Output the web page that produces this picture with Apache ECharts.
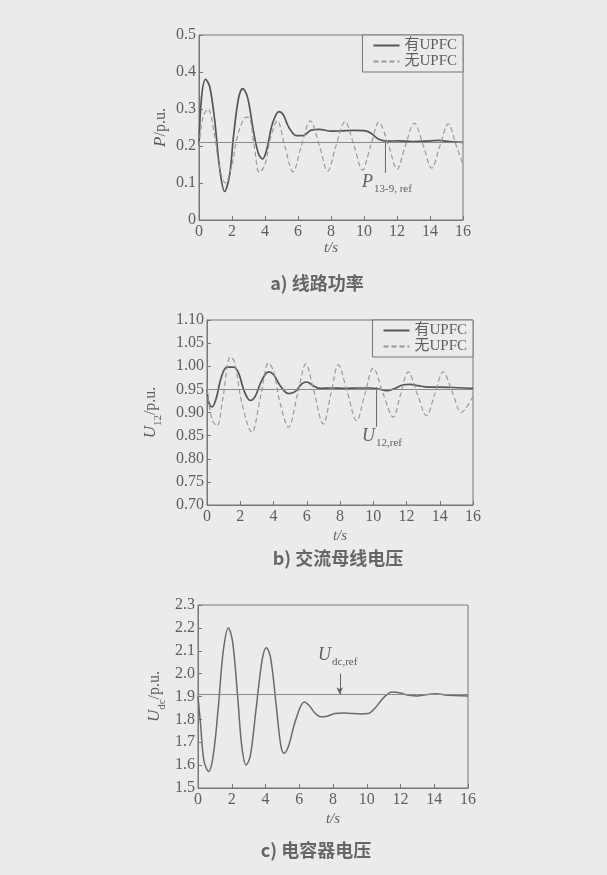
<!DOCTYPE html>
<html><head><meta charset="utf-8">
<script src="https://cdn.jsdelivr.net/npm/echarts@6/dist/echarts.min.js"></script>
<style>html,body{margin:0;padding:0;background:#ebebeb}#c{width:607px;height:875px}</style>
</head><body><div id="c"></div>
<script>
// ---- data ----
const seriesNames = ['有UPFC', '无UPFC'];
const xRange = [0, 16];

// a) line power P (p.u.)
const pWith = [[0,0.2],[0.15,0.33],[0.4,0.38],[0.65,0.36],[0.95,0.27],[1.25,0.14],[1.55,0.077],[1.85,0.12],[2.1,0.23],[2.4,0.33],[2.65,0.355],[2.95,0.33],[3.3,0.24],[3.6,0.18],[3.85,0.165],[4.1,0.19],[4.45,0.26],[4.85,0.293],[5.1,0.285],[5.45,0.25],[5.9,0.228],[6.3,0.228],[6.8,0.243],[7.3,0.245],[8,0.24],[8.7,0.241],[9.4,0.242],[10.1,0.241],[10.5,0.232],[10.9,0.218],[11.4,0.213],[12.1,0.214],[12.9,0.212],[13.7,0.213],[14.5,0.215],[15.2,0.212],[16,0.21]];
const pWithout = [[0,0.2],[0.25,0.28],[0.55,0.3],[0.9,0.24],[1.25,0.14],[1.6,0.1],[1.95,0.14],[2.35,0.23],[2.75,0.275],[3.0,0.278],[3.35,0.2],[3.65,0.128],[4.0,0.15],[4.35,0.225],[4.75,0.268],[5.2,0.2],[5.7,0.13],[6.2,0.2],[6.75,0.268],[7.3,0.2],[7.8,0.132],[8.3,0.2],[8.85,0.266],[9.4,0.2],[9.9,0.135],[10.4,0.2],[10.9,0.264],[11.5,0.2],[12.0,0.137],[12.5,0.2],[13.05,0.262],[13.6,0.2],[14.1,0.14],[14.6,0.2],[15.1,0.26],[15.6,0.2],[16,0.15]];
const pRef = 0.215;
const pRefMarker = [[11.3, 0.215], [11.3, 0.127]];

// b) AC bus voltage U12 (p.u.)
const uWith = [[0,0.95],[0.12,0.92],[0.3,0.912],[0.55,0.93],[0.85,0.975],[1.2,0.998],[1.6,0.998],[1.9,0.985],[2.25,0.945],[2.6,0.926],[2.9,0.935],[3.3,0.97],[3.7,0.988],[4.0,0.982],[4.4,0.958],[4.9,0.941],[5.3,0.945],[5.7,0.962],[6.0,0.966],[6.4,0.958],[6.8,0.952],[7.5,0.953],[8.3,0.952],[9.1,0.953],[9.9,0.953],[10.4,0.95],[10.8,0.947],[11.3,0.952],[11.8,0.96],[12.2,0.961],[12.7,0.958],[13.3,0.955],[14,0.955],[14.8,0.954],[15.5,0.953],[16,0.952]];
const uWithout = [[0,0.95],[0.3,0.885],[0.6,0.871],[0.95,0.93],[1.4,1.02],[1.65,1.01],[2.1,0.92],[2.7,0.857],[3.2,0.93],[3.7,1.007],[4.0,0.99],[4.4,0.92],[4.9,0.868],[5.45,0.94],[5.95,1.005],[6.4,0.95],[7.0,0.875],[7.45,0.94],[7.9,1.003],[8.4,0.95],[9.0,0.882],[9.5,0.94],[10.0,0.996],[10.6,0.94],[11.2,0.89],[11.65,0.94],[12.1,0.988],[12.65,0.94],[13.2,0.893],[13.7,0.94],[14.2,0.988],[14.75,0.945],[15.3,0.9],[16,0.935]];
const uRef = 0.955;
const uRefMarker = [[10.2, 0.955], [10.2, 0.869]];

// c) capacitor voltage Udc (p.u.)
const udc = [[0,1.9],[0.15,1.78],[0.35,1.62],[0.63,1.572],[0.9,1.64],[1.2,1.85],[1.5,2.1],[1.8,2.2],[2.05,2.14],[2.35,1.9],[2.6,1.68],[2.85,1.601],[3.1,1.64],[3.45,1.85],[3.8,2.06],[4.05,2.113],[4.3,2.07],[4.65,1.85],[4.9,1.69],[5.1,1.652],[5.35,1.68],[5.8,1.8],[6.3,1.876],[6.6,1.86],[6.9,1.83],[7.3,1.811],[7.7,1.815],[8.1,1.826],[8.6,1.828],[9.1,1.826],[9.6,1.824],[10.1,1.826],[10.5,1.85],[11.0,1.895],[11.5,1.92],[12.0,1.915],[12.5,1.905],[13.0,1.902],[13.5,1.908],[14.1,1.912],[14.6,1.907],[15.2,1.904],[16,1.902]];
const udcRef = 1.91;
const udcArrow = [[8.4, 2.0], [8.4, 1.91]];

const captions = ['a) 线路功率', 'b) 交流母线电压', 'c) 电容器电压'];

// ---- styling ----
const AX = '#777';
const SERIF = "'Liberation Serif','Noto Sans CJK SC',serif";
const CJK = "'Noto Sans CJK SC',sans-serif";
const TXT = '#5e5e5e';

function xAx(gi, gap) {
  return {
    type: 'value', gridIndex: gi, min: xRange[0], max: xRange[1], interval: 2,
    axisLine: {lineStyle: {color: AX}}, axisTick: {inside: true, length: 4, lineStyle: {color: AX}},
    splitLine: {show: false},
    axisLabel: {margin: 4, color: TXT, fontFamily: SERIF, fontSize: 16},
    name: 't/s', nameLocation: 'middle', nameGap: gap,
    nameTextStyle: {color: TXT, fontFamily: SERIF, fontSize: 15, fontStyle: 'italic'}
  };
}
function yAx(gi, min, max, iv, dec, nameRich, gap) {
  return {
    type: 'value', gridIndex: gi, min: min, max: max, interval: iv,
    axisLine: {lineStyle: {color: AX}}, axisTick: {inside: true, length: 4, lineStyle: {color: AX}},
    splitLine: {show: false},
    axisLabel: {margin: 3, color: TXT, fontFamily: SERIF, fontSize: 16,
      formatter: v => (Math.abs(v) < 1e-9 ? '0' : v.toFixed(dec))},
    name: nameRich, nameLocation: 'middle', nameGap: gap, nameRotate: 90,
    nameTextStyle: {
      color: TXT, fontFamily: SERIF, fontSize: 16,
      rich: {
        i: {fontFamily: SERIF, fontStyle: 'italic', fontSize: 17, color: TXT, lineHeight: 26},
        s: {fontFamily: SERIF, fontSize: 11, color: TXT, lineHeight: 12, verticalAlign: 'bottom'},
        n: {fontFamily: SERIF, fontSize: 16, color: TXT, lineHeight: 26}
      }
    }
  };
}
function lineS(name, data, xi, color, width, dash) {
  return {
    name: name, type: 'line', xAxisIndex: xi, yAxisIndex: xi, data: data,
    smooth: 0.35, symbol: 'none', animation: false,
    lineStyle: {color: color, width: width, type: dash || 'solid'},
    itemStyle: {color: color}
  };
}
function refLine(val) {
  return {silent: true, symbol: 'none', label: {show: false},
    lineStyle: {color: '#8a8a8a', width: 1, type: 'solid'}, data: [{yAxis: val}]};
}
function marker(data, xi) {
  return {type: 'line', xAxisIndex: xi, yAxisIndex: xi, data: data, symbol: 'none',
    animation: false, silent: true, lineStyle: {color: '#666', width: 1}};
}

const legendBase = {
  orient: 'vertical', data: seriesNames, itemWidth: 26, itemHeight: 10, itemGap: 1,
  padding: [3, 6, 3, 10], borderColor: AX, borderWidth: 1, backgroundColor: '#ebebeb',
  itemStyle: {opacity: 0},
  textStyle: {color: TXT, fontFamily: SERIF, fontSize: 15}, selectedMode: false
};

const grids = [
  {left: 199, top: 35, width: 264, height: 185},
  {left: 207, top: 320, width: 266, height: 185},
  {left: 198, top: 605, width: 270, height: 183}
].map(g => Object.assign(g, {show: true, borderColor: AX, borderWidth: 1, backgroundColor: 'transparent'}));

const sA = lineS(seriesNames[0], pWith, 0, '#555', 1.7);
sA.markLine = refLine(pRef);
const sB = lineS(seriesNames[0], uWith, 1, '#555', 1.7);
sB.markLine = refLine(uRef);
const sC = lineS('Udc', udc, 2, '#6a6a6a', 1.5);
sC.markLine = refLine(udcRef);
const sCArrow = {type: 'line', xAxisIndex: 2, yAxisIndex: 2, data: [], markLine: {
  silent: true, symbol: ['none', 'arrow'], symbolSize: [5, 7], label: {show: false},
  lineStyle: {color: '#666', width: 1, type: 'solid'},
  data: [[{coord: udcArrow[0]}, {coord: udcArrow[1]}]]}};

const option = {
  backgroundColor: '#ebebeb',
  animation: false,
  grid: grids,
  xAxis: [xAx(0, 15), xAx(1, 24), xAx(2, 24)],
  yAxis: [
    yAx(0, 0, 0.5, 0.1, 1, '{i|P}{n|/p.u.}', 25),
    yAx(1, 0.7, 1.1, 0.05, 2, '{i|U}{s|12}{n|/p.u.}', 43),
    yAx(2, 1.5, 2.3, 0.1, 1, '{i|U}{s|dc}{n|/p.u.}', 30)
  ],
  legend: [
    Object.assign({}, legendBase, {top: 35, right: 144}),
    Object.assign({}, legendBase, {top: 320, right: 134})
  ],
  series: [
    sA, lineS(seriesNames[1], pWithout, 0, '#9a9a9a', 1.2, [5, 3]), marker(pRefMarker, 0),
    sB, lineS(seriesNames[1], uWithout, 1, '#9a9a9a', 1.2, [5, 3]), marker(uRefMarker, 1),
    sC, sCArrow
  ],
  graphic: [
    {type: 'text', left: 362, top: 173, style: {text: 'P', font: 'italic 18px ' + SERIF, fill: TXT}},
    {type: 'text', left: 374, top: 184, style: {text: '13-9, ref', font: '11px ' + SERIF, fill: TXT}},
    {type: 'text', left: 362, top: 427, style: {text: 'U', font: 'italic 18px ' + SERIF, fill: TXT}},
    {type: 'text', left: 376, top: 438, style: {text: '12,ref', font: '11px ' + SERIF, fill: TXT}},
    {type: 'text', left: 318, top: 646, style: {text: 'U', font: 'italic 18px ' + SERIF, fill: TXT}},
    {type: 'text', left: 332, top: 657, style: {text: 'dc,ref', font: '11px ' + SERIF, fill: TXT}},
    {type: 'text', x: 317, y: 283, style: {text: captions[0], font: 'bold 18px ' + CJK, fill: '#666', align: 'center', verticalAlign: 'middle'}},
    {type: 'text', x: 338, y: 558, style: {text: captions[1], font: 'bold 18px ' + CJK, fill: '#666', align: 'center', verticalAlign: 'middle'}},
    {type: 'text', x: 316, y: 850, style: {text: captions[2], font: 'bold 18px ' + CJK, fill: '#666', align: 'center', verticalAlign: 'middle'}}
  ]
};
const chart = echarts.init(document.getElementById('c'), null, {renderer: 'canvas'});
chart.setOption(option);
</script></body></html>
